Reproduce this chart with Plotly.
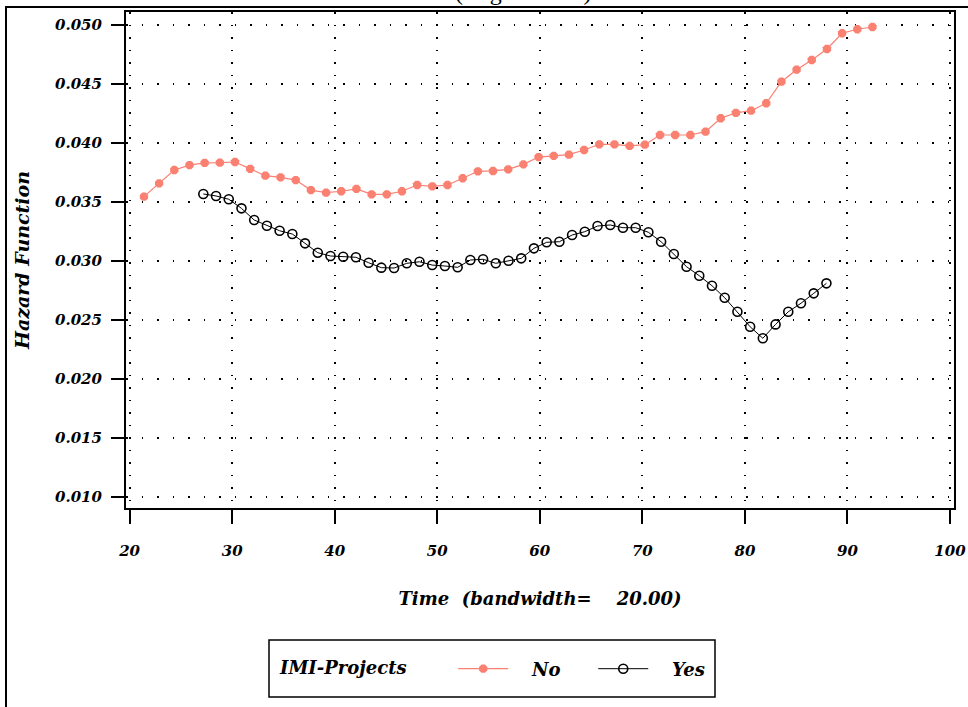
import plotly.graph_objects as go

# Smoothed hazard estimates by IMI-Projects group
time_no = [21.40, 22.88, 24.36, 25.84, 27.32, 28.80, 30.28, 31.76, 33.24, 34.72,
           36.20, 37.68, 39.16, 40.64, 42.12, 43.60, 45.08, 46.56, 48.04, 49.52,
           51.00, 52.48, 53.96, 55.44, 56.92, 58.40, 59.88, 61.36, 62.84, 64.32,
           65.80, 67.28, 68.76, 70.24, 71.72, 73.20, 74.68, 76.16, 77.64, 79.12,
           80.60, 82.08, 83.56, 85.04, 86.52, 88.00, 89.48, 90.96, 92.44]
hazard_no = [0.03544, 0.03657, 0.03770, 0.03812, 0.03830, 0.03832, 0.03838, 0.03780, 0.03722, 0.03708,
             0.03685, 0.03600, 0.03578, 0.03590, 0.03610, 0.03564, 0.03564, 0.03590, 0.03643, 0.03632,
             0.03643, 0.03700, 0.03759, 0.03762, 0.03776, 0.03818, 0.03880, 0.03890, 0.03900, 0.03940,
             0.03988, 0.03988, 0.03974, 0.03985, 0.04067, 0.04067, 0.04067, 0.04095, 0.04209, 0.04254,
             0.04273, 0.04336, 0.04519, 0.04621, 0.04703, 0.04796, 0.04930, 0.04964, 0.04983]

time_yes = [27.19, 28.43, 29.67, 30.91, 32.15, 33.39, 34.63, 35.87, 37.11, 38.35,
            39.59, 40.83, 42.07, 43.31, 44.55, 45.79, 47.03, 48.27, 49.51, 50.75,
            51.99, 53.23, 54.47, 55.71, 56.95, 58.19, 59.43, 60.67, 61.91, 63.15,
            64.39, 65.63, 66.87, 68.11, 69.35, 70.59, 71.83, 73.07, 74.31, 75.55,
            76.79, 78.03, 79.27, 80.51, 81.75, 82.99, 84.23, 85.47, 86.71, 87.95]
hazard_yes = [0.03567, 0.03550, 0.03522, 0.03445, 0.03346, 0.03298, 0.03255, 0.03227, 0.03148, 0.03069,
              0.03041, 0.03035, 0.03030, 0.02984, 0.02942, 0.02939, 0.02979, 0.02992, 0.02964, 0.02956,
              0.02945, 0.03007, 0.03013, 0.02979, 0.03001, 0.03021, 0.03106, 0.03157, 0.03162, 0.03219,
              0.03247, 0.03295, 0.03304, 0.03281, 0.03281, 0.03242, 0.03162, 0.03058, 0.02950, 0.02874,
              0.02789, 0.02687, 0.02568, 0.02441, 0.02343, 0.02461, 0.02568, 0.02640, 0.02724, 0.02809]

x_ticks = [20, 30, 40, 50, 60, 70, 80, 90, 100]
y_ticks = [0.010, 0.015, 0.020, 0.025, 0.030, 0.035, 0.040, 0.045, 0.050]

SALMON = "#FA8072"
FONT = "DejaVu Serif"
NB = "\u00a0"

W, H = 968, 707
L, R, T, B = 126, 14, 12, 199
PW, PH = W - L - R, H - T - B


def px(xp):
    return (xp - L) / PW


def py(yp):
    return (H - B - yp) / PH


def bi_font(size):
    return dict(family=FONT, size=size, color="black", style="italic", weight="bold")


fig = go.Figure()
fig.add_trace(go.Scatter(
    x=time_no, y=hazard_no, name=NB * 3 + "No", mode="lines+markers",
    line=dict(color=SALMON, width=1.2),
    marker=dict(symbol="octagon", size=9, color=SALMON),
))
fig.add_trace(go.Scatter(
    x=time_yes, y=hazard_yes, name=NB * 3 + "Yes", mode="lines+markers",
    line=dict(color="black", width=1),
    marker=dict(symbol="circle-open", size=9, color="black", line=dict(width=1.6, color="black")),
))

fig.update_xaxes(
    range=[19.65, 100.39], tickvals=x_ticks, ticktext=[str(v) for v in x_ticks],
    showline=True, linecolor="black", linewidth=2, mirror=True,
    ticks="outside", ticklen=14, tickwidth=1.5, tickcolor="black",
    ticklabelstandoff=14, tickfont=bi_font(15),
    showgrid=True, gridcolor="black", gridwidth=1.5, griddash="1.5px,11px",
    zeroline=False,
    title=dict(text="Time" + NB * 2 + "(bandwidth=" + NB * 4 + "20.00)",
               font=bi_font(18), standoff=33),
)
fig.update_yaxes(
    range=[0.00904, 0.0511], tickvals=y_ticks, ticktext=["%.3f" % v for v in y_ticks],
    showline=True, linecolor="black", linewidth=2, mirror=True,
    ticks="outside", ticklen=13, tickwidth=1.5, tickcolor="black",
    ticklabelstandoff=6, tickfont=bi_font(15),
    showgrid=True, gridcolor="black", gridwidth=1.5, griddash="1.5px,14px",
    zeroline=False,
    title=dict(text="Hazard Function", font=bi_font(19), standoff=20),
)

shapes = [
    # outer page frame
    dict(type="rect", xref="paper", yref="paper",
         x0=px(6), x1=px(975), y0=py(715), y1=py(7),
         line=dict(color="black", width=2), layer="below"),
    # legend box
    dict(type="rect", xref="paper", yref="paper",
         x0=px(269), x1=px(715), y0=py(697), y1=py(640),
         line=dict(color="black", width=1.5)),
]

fig.update_layout(
    width=W, height=H,
    margin=dict(l=L, r=R, t=T, b=B, autoexpand=False),
    paper_bgcolor="white", plot_bgcolor="white",
    shapes=shapes,
    showlegend=True,
    legend=dict(
        orientation="h", x=px(278), xanchor="left", y=py(669), yanchor="middle",
        title=dict(text="IMI-Projects" + NB * 6, side="left", font=bi_font(18)),
        font=bi_font(18),
        itemwidth=50, entrywidth=75, entrywidthmode="pixels",
        bgcolor="rgba(0,0,0,0)", borderwidth=0,
    ),
    annotations=[dict(
        text="(original data)", xref="paper", yref="paper",
        x=px(523), y=py(-23), xanchor="center", yanchor="top", showarrow=False,
        font=dict(family="Liberation Serif", size=24, color="black"),
    )],
)

fig.write_html("out.html")
